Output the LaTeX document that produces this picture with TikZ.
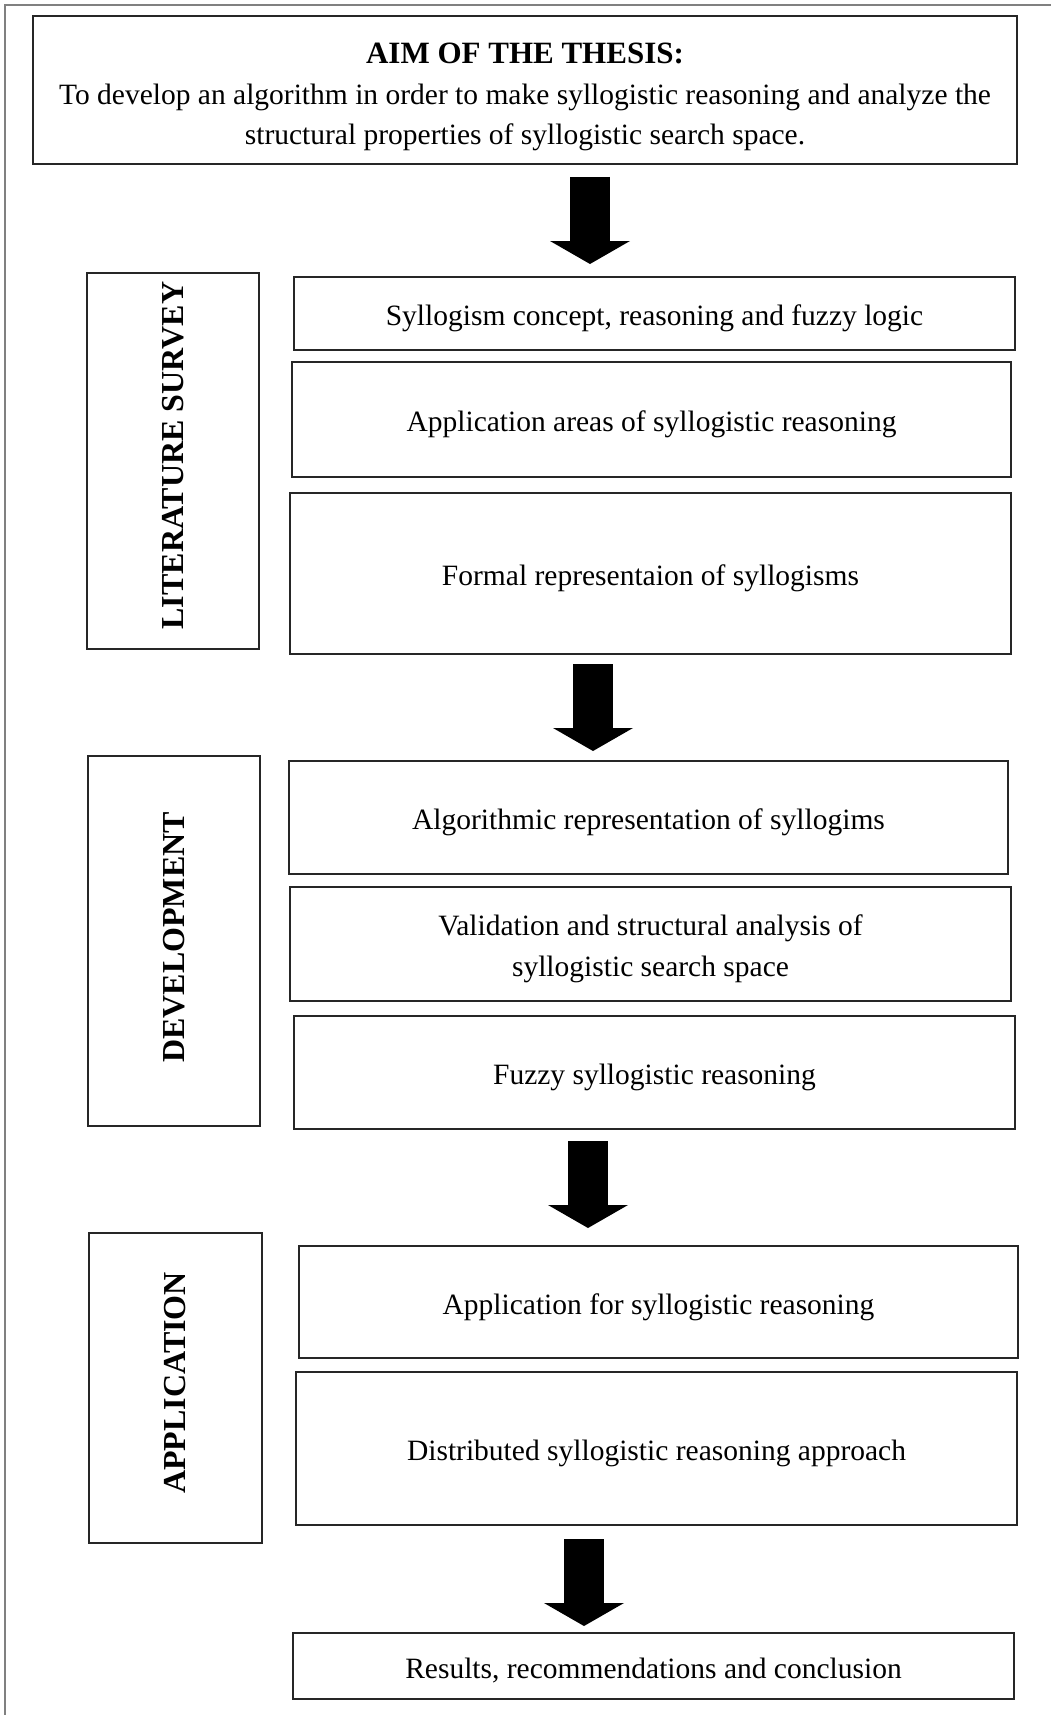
\documentclass[tikz,border=0pt]{standalone}
\usepackage{fontspec}
\setmainfont{Liberation Serif}
\usetikzlibrary{arrows.meta}
\newcommand\dn[2][5pt]{\raisebox{-#1}[\height][\depth]{#2}}
\begin{document}
\begin{tikzpicture}[x=1pt,y=-1pt,
  box/.style={draw=black!85, line width=1.4pt, align=center, inner sep=0pt,
    font=\fontsize{29.5}{40.5}\selectfont},
  sidebox/.style={draw=black!85, line width=1.4pt, rotate=90, inner sep=0pt,
    font=\fontsize{32}{36}\selectfont\bfseries},
  bigarrow/.style={line width=40pt, -{Triangle[width=80pt,length=23pt,line width=0pt]}},
  frame/.style={draw=black!50, line width=2pt}]
\useasboundingbox (0,0) rectangle (1050,1715);
\fill[white] (0,0) rectangle (1050,1715);
% outer frame (top and left edges visible)
\coordinate (fbl) at (5,1720);
\coordinate (ftl) at (5,5);
\coordinate (ftr) at (1056,5);
\draw[frame] (fbl) -- (ftl) -- (ftr);

% aim
\node[box, minimum width=984, minimum height=148] (aim) at (525,90)
  {\dn[7pt]{\fontsize{31}{40.5}\selectfont\bfseries AIM OF THE THESIS:}\\
   \dn[7pt]{To develop an algorithm in order to make syllogistic reasoning and analyze the}\\
   \dn[7pt]{structural properties of syllogistic search space.}};

% literature survey
\node[sidebox, minimum width=376, minimum height=172] (lit) at (173,461) {\hspace{11pt}LITERATURE SURVEY};
\node[box, minimum width=721, minimum height=73]  (s1) at (654.5,313.5) {\dn{Syllogism concept, reasoning and fuzzy logic}};
\node[box, minimum width=719, minimum height=115] (s2) at (651.5,419.5) {\dn{Application areas of syllogistic reasoning}};
\node[box, minimum width=721, minimum height=161] (s3) at (650.5,573.5) {\dn{Formal representaion of syllogisms}};

% development
\node[sidebox, minimum width=370, minimum height=172] (dev) at (174,941) {\hspace{7pt}DEVELOPMENT};
\node[box, minimum width=719, minimum height=113] (d1) at (648.5,817.5) {\dn{Algorithmic representation of syllogims}};
\node[box, minimum width=721, minimum height=114] (d2) at (650.5,944) {\dn{Validation and structural analysis of}\\\dn{syllogistic search space}};
\node[box, minimum width=721, minimum height=113] (d3) at (654.5,1072.5) {\dn{Fuzzy syllogistic reasoning}};

% application
\node[sidebox, minimum width=310, minimum height=173] (app) at (175.5,1388) {\hspace{10pt}APPLICATION};
\node[box, minimum width=719, minimum height=112] (a1) at (658.5,1302) {\dn{Application for syllogistic reasoning}};
\node[box, minimum width=721, minimum height=153] (a2) at (656.5,1448.5) {\dn{Distributed syllogistic reasoning approach}};

% results
\node[box, minimum width=721, minimum height=66] (res) at (653.5,1666) {\dn{Results, recommendations and conclusion}};

% block arrows
\coordinate (ar1s) at (590,177);  \coordinate (ar1e) at (590,264);
\coordinate (ar2s) at (593,664);  \coordinate (ar2e) at (593,751);
\coordinate (ar3s) at (588,1141); \coordinate (ar3e) at (588,1228);
\coordinate (ar4s) at (584,1539); \coordinate (ar4e) at (584,1626);
\draw[bigarrow] (ar1s) -- (ar1e);
\draw[bigarrow] (ar2s) -- (ar2e);
\draw[bigarrow] (ar3s) -- (ar3e);
\draw[bigarrow] (ar4s) -- (ar4e);
\end{tikzpicture}
\end{document}
